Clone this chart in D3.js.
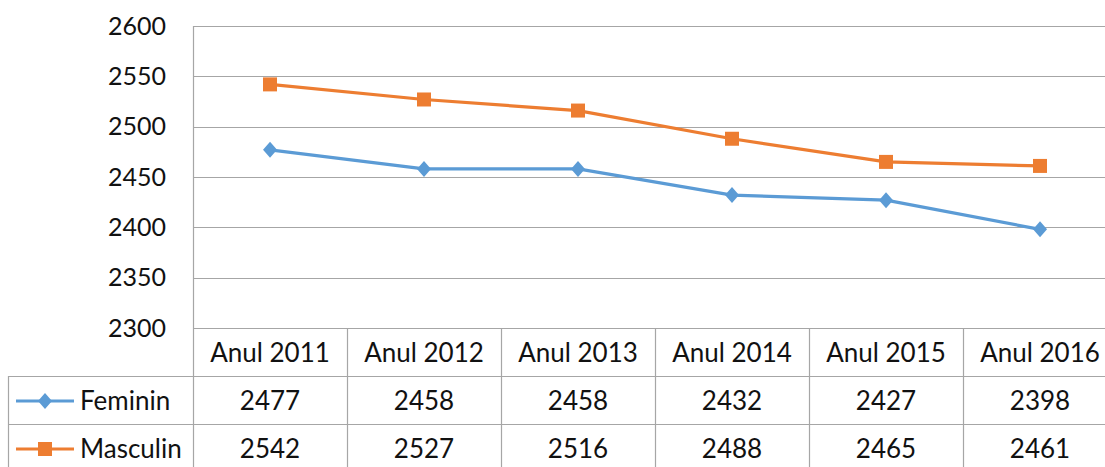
<!DOCTYPE html>
<html>
<head>
<meta charset="utf-8">
<script src="https://cdn.jsdelivr.net/npm/d3@7"></script>
<style>
  body { margin: 0; background: #fff; }
  svg text { font-family: Lato, "Open Sans", sans-serif; fill: #111; }
</style>
</head>
<body>
<div id="chart-area"></div>
<script>
// data
const categories = ["Anul 2011", "Anul 2012", "Anul 2013", "Anul 2014", "Anul 2015", "Anul 2016"]
const feminin = [2477, 2458, 2458, 2432, 2427, 2398]
const masculin = [2542, 2527, 2516, 2488, 2465, 2461]
const yTicks = [2300, 2350, 2400, 2450, 2500, 2550, 2600]

const series = [
    { name: "Feminin", values: feminin, color: "#5b9bd5", marker: "diamond" },
    { name: "Masculin", values: masculin, color: "#ed7d31", marker: "square" }
]

const W = 1105, H = 467
const plotLeft = 193, plotTop = 26, plotBottom = 328
const colW = 154
const tableLeft = 8
const rowH = 48
const fontSize = "26px"

const svg = d3.select("#chart-area").append("svg")
    .attr("width", W)
    .attr("height", H);

const x = d3.scaleBand()
    .domain(categories)
    .range([plotLeft, plotLeft + colW * categories.length]);

const y = d3.scaleLinear()
    .domain([2300, 2600])
    .range([plotBottom, plotTop]);

const gridColor = "#a6a6a6"

// gridlines
svg.append("g")
    .selectAll("line")
    .data(yTicks)
    .join("line")
    .attr("x1", plotLeft)
    .attr("x2", W)
    .attr("y1", d => Math.round(y(d)) + 0.5)
    .attr("y2", d => Math.round(y(d)) + 0.5)
    .attr("stroke", gridColor)
    .attr("stroke-width", 1.2);

// y labels
svg.append("g")
    .selectAll("text")
    .data(yTicks)
    .join("text")
    .attr("x", 166)
    .attr("y", d => y(d))
    .attr("dy", "0.35em")
    .attr("text-anchor", "end")
    .attr("font-size", "25px")
    .text(d => d);

// table lines
const tbl = svg.append("g").attr("stroke", gridColor).attr("stroke-width", 1.2);
const row1 = plotBottom + rowH, row2 = plotBottom + rowH * 2
tbl.append("line").attr("x1", plotLeft + 0.5).attr("x2", plotLeft + 0.5).attr("y1", plotTop).attr("y2", H);
tbl.append("line").attr("x1", tableLeft + 0.5).attr("x2", tableLeft + 0.5).attr("y1", row1).attr("y2", H);
[row1, row2].forEach(r => {
    tbl.append("line").attr("x1", tableLeft).attr("x2", W).attr("y1", r + 0.5).attr("y2", r + 0.5);
});
categories.slice(1).forEach(c => {
    const xx = Math.round(x(c)) + 0.5
    tbl.append("line").attr("x1", xx).attr("x2", xx).attr("y1", plotBottom).attr("y2", H);
});

// header row
svg.append("g")
    .selectAll("text")
    .data(categories)
    .join("text")
    .attr("x", d => x(d) + x.bandwidth() / 2)
    .attr("y", plotBottom + rowH / 2 + 1)
    .attr("dy", "0.35em")
    .attr("text-anchor", "middle")
    .attr("font-size", fontSize)
    .text(d => d);

function drawMarker(g, type, color) {
    if (type === "diamond") {
        g.append("path")
            .attr("d", "M0,-8L7,0L0,8L-7,0Z")
            .attr("fill", color);
    } else {
        g.append("rect")
            .attr("x", -7).attr("y", -7)
            .attr("width", 14).attr("height", 14)
            .attr("fill", color);
    }
}

const line = d3.line()
    .x((d, i) => x(categories[i]) + x.bandwidth() / 2)
    .y(d => y(d));

series.forEach((s, si) => {
    // line
    svg.append("path")
        .datum(s.values)
        .attr("fill", "none")
        .attr("stroke", s.color)
        .attr("stroke-width", 3.2)
        .attr("stroke-linejoin", "round")
        .attr("d", line);

    // markers
    s.values.forEach((v, i) => {
        const g = svg.append("g")
            .attr("transform", `translate(${x(categories[i]) + x.bandwidth() / 2}, ${y(v)})`);
        drawMarker(g, s.marker, s.color);
    });

    // table row
    const rowY = plotBottom + rowH * (si + 1) + rowH / 2 + 1
    const leg = svg.append("g").attr("transform", `translate(0, ${rowY})`);
    leg.append("line")
        .attr("x1", 16).attr("x2", 74)
        .attr("y1", 0).attr("y2", 0)
        .attr("stroke", s.color)
        .attr("stroke-width", 3.2);
    drawMarker(leg.append("g").attr("transform", "translate(45,0)"), s.marker, s.color);
    leg.append("text")
        .attr("x", 80)
        .attr("dy", "0.35em")
        .attr("font-size", fontSize)
        .text(s.name);

    svg.append("g")
        .selectAll("text")
        .data(s.values)
        .join("text")
        .attr("x", (d, i) => x(categories[i]) + x.bandwidth() / 2)
        .attr("y", rowY)
        .attr("dy", "0.35em")
        .attr("text-anchor", "middle")
        .attr("font-size", fontSize)
        .text(d => d);
});
</script>
</body>
</html>
